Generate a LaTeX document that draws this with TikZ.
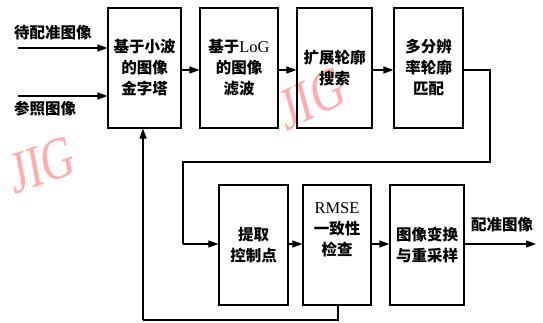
\documentclass[tikz,border=0pt]{standalone}
\usepackage{fontspec}
\setmainfont{Liberation Serif}
\newfontfamily\cjk{Noto Sans CJK SC}
\usetikzlibrary{arrows.meta}
\definecolor{wm}{RGB}{255,172,172}
\tikzset{
  x=1pt, y=-1pt,
  blk/.style={draw, line width=1.2pt, minimum width=#1, minimum height=120pt, inner sep=0pt, align=center,
     font=\fontsize{15.5}{21}\selectfont\cjk\bfseries},
  arr/.style={line width=1.2pt, -{Triangle[length=10pt,width=7pt]}},
  ln/.style={line width=1.2pt},
  lab/.style={font=\fontsize{15.5}{18}\selectfont\cjk\bfseries, inner sep=0pt},
  wmk/.style={text=wm, font=\fontsize{60}{60}\selectfont\rmfamily, inner sep=0pt, xscale=0.75}
}
\begin{document}
\begin{tikzpicture}
\useasboundingbox (0,0) rectangle (543,323);
% watermarks
\node[wmk, rotate=14] (wm1) at (42,165) {JIG};
\node[wmk, rotate=20] (wm2) at (312,98) {JIG};
% top row
\node[blk=73pt] (b1) at (144.5,68) {基于小波\\的图像\\金字塔};
\node[blk=78pt] (b2) at (239,68) {基于{\rmfamily\mdseries\fontsize{16.5}{21}\selectfont LoG}\\的图像\\滤波};
\node[blk=75pt] (b3) at (334.5,68) {扩展轮廓\\搜索};
\node[blk=69pt] (b4) at (428.5,68) {多分辨\\率轮廓\\匹配};
% bottom row
\node[blk=69pt] (b5) at (253.5,245) {提取\\控制点};
\node[blk=68pt] (b6) at (337,245) {{\rmfamily\mdseries\fontsize{16.5}{21}\selectfont RMSE}\\一致性\\检查\\[10pt]};
\node[blk=74pt] (b7) at (427,245) {图像变换\\与重采样};
% inputs
\node[lab, anchor=west] (l1) at (14,33) {待配准图像};
\node[lab, anchor=west] (l2) at (14,109) {参照图像};
\coordinate (i1) at (18,48);
\coordinate (i2) at (18,96);
\draw[arr] (i1) -- (i1 -| b1.west);
\draw[arr] (i2) -- (i2 -| b1.west);
% top chain
\draw[arr] (b1.east |- 0,70) -- (b2.west |- 0,70);
\draw[arr] (b2.east |- 0,70) -- (b3.west |- 0,70);
\draw[arr] (b3.east |- 0,70) -- (b4.west |- 0,70);
% wrap
\coordinate (w1) at (490,70);
\coordinate (w2) at (490,162);
\coordinate (w3) at (183,162);
\coordinate (w4) at (183,244);
\draw[ln] (b4.east |- w1) -- (w1) -- (w2) -- (w3) -- (w4);
\draw[arr] (w4) -- (w4 -| b5.west);
% bottom chain
\draw[arr] (b5.east |- 0,244) -- (b6.west |- 0,244);
\draw[arr] (b6.east |- 0,244) -- (b7.west |- 0,244);
\coordinate (o1) at (536,244);
\draw[arr] (b7.east |- o1) -- (o1);
\node[lab] (l3) at (502,225) {配准图像};
% feedback
\coordinate (f1) at (338,320);
\coordinate (f2) at (143,320);
\draw[ln] (b6.south -| f1) -- (f1) -- (f2);
\draw[arr] (f2) -- (f2 |- b1.south);
\end{tikzpicture}
\end{document}
